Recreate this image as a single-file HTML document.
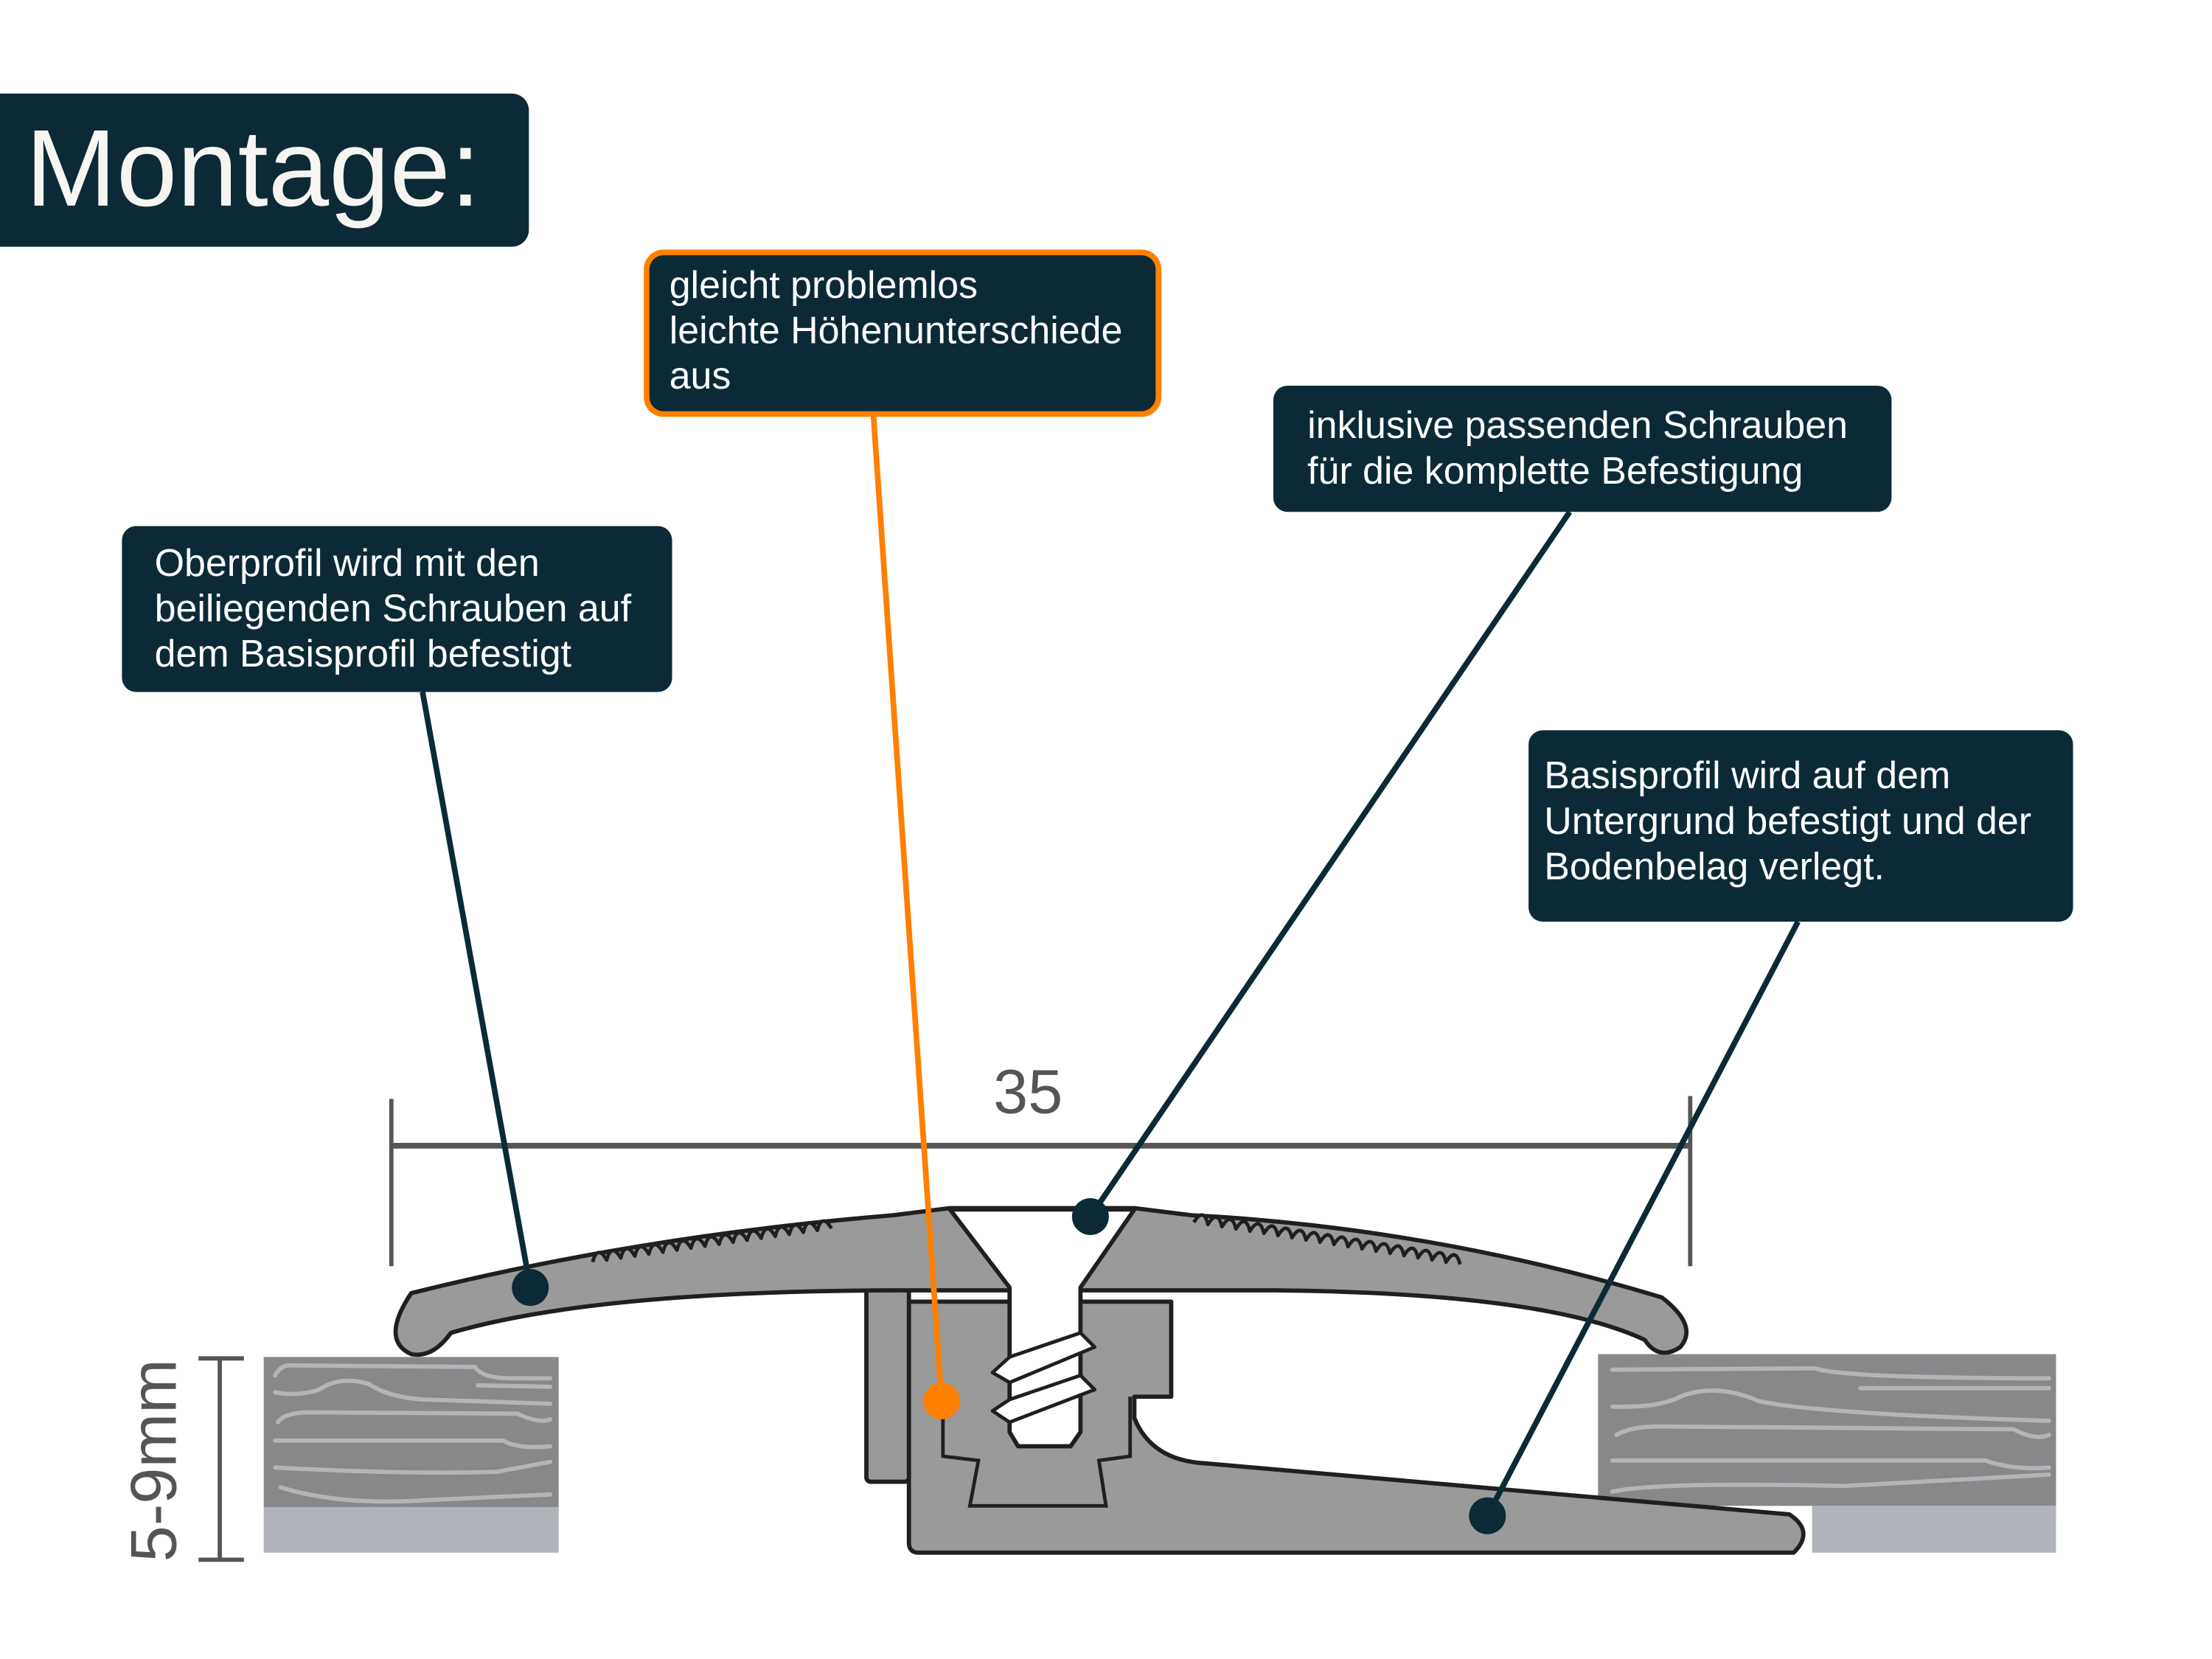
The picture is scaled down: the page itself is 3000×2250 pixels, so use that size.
<!DOCTYPE html>
<html><head><meta charset="utf-8"><style>
html,body{margin:0;padding:0;background:#fff;}
svg{display:block;}
text{font-family:"Liberation Sans","DejaVu Sans",sans-serif;}
</style></head><body>
<svg width="3000" height="2250" viewBox="0 0 1560 1170" xmlns="http://www.w3.org/2000/svg">
<rect width="1560" height="1170" fill="#fff"/>

<rect x="-20" y="66" width="393" height="108" rx="12" fill="#0b2a36"/>
<text x="18" y="145" font-size="77" fill="#f7f5f2">Montage:</text>

<rect x="186" y="957" width="208" height="106" fill="#88888b"/>
<rect x="186" y="1063" width="208" height="32" fill="#b0b3ba"/>
<g stroke="#b5b5b8" stroke-width="3" fill="none" stroke-linecap="round">
<path d="M194,970 Q198,962 206,963 L335,964 Q340,972 360,972 L388,972"/>
<path d="M194,982 Q210,985 225,980 Q240,970 260,976 Q275,986 300,987 L388,990"/>
<path d="M337,977 L388,978"/>
<path d="M196,1003 Q200,997 215,996 L365,997 Q380,1004 388,1001"/>
<path d="M194,1016 L355,1016 Q365,1022 388,1020"/>
<path d="M194,1035 Q290,1040 350,1038 L388,1031"/>
<path d="M198,1049 Q240,1062 300,1058 L388,1054"/>
</g>
<rect x="1127" y="955" width="323" height="107" fill="#88888b"/>
<rect x="1278" y="1062" width="172" height="33" fill="#b0b3ba"/>
<g stroke="#b5b5b8" stroke-width="3" fill="none" stroke-linecap="round">
<path d="M1137,966 L1280,965 Q1300,972 1445,972"/>
<path d="M1312,979 L1445,979"/>
<path d="M1137,992 Q1170,993 1185,985 Q1210,975 1240,988 Q1280,997 1445,1002"/>
<path d="M1140,1012 Q1150,1006 1170,1006 L1420,1008 Q1435,1016 1445,1012"/>
<path d="M1137,1030 L1400,1030 Q1420,1037 1445,1035"/>
<path d="M1137,1052 Q1170,1045 1300,1048 L1445,1040"/>
</g>

<g stroke="#555" fill="none">
<line x1="276" y1="775" x2="276" y2="893" stroke-width="3"/>
<line x1="1192" y1="773" x2="1192" y2="893" stroke-width="3"/>
<line x1="276" y1="808" x2="1192" y2="808" stroke-width="4"/>
</g>
<text x="725" y="785" font-size="44" fill="#555" text-anchor="middle">35</text>

<g stroke="#555" stroke-width="3">
<line x1="155" y1="958" x2="155" y2="1100"/>
<line x1="140" y1="958" x2="172" y2="958"/>
<line x1="140" y1="1100" x2="172" y2="1100"/>
</g>
<text transform="translate(124,1030) rotate(-90)" font-size="46" fill="#555" text-anchor="middle">5-9mm</text>

<path d="M641,918 L826,918 L826,985 L800,985 L800,1000 Q812,1030 850,1032 L1262,1068 Q1280,1080 1265,1095 L648,1095 Q641,1095 641,1088 Z" fill="#9a9a9a" stroke="#1f1f1f" stroke-width="3" stroke-linejoin="round"/>
<path d="M665,985 L665,1027 L690,1030 L684,1062 L780,1062 L775,1030 L797,1027 L797,985" fill="none" stroke="#1f1f1f" stroke-width="2.5"/>
<rect x="611" y="905" width="30" height="140" rx="3" fill="#9a9a9a" stroke="#1f1f1f" stroke-width="3"/>
<path d="M290,912 Q450,872 630,857 L670,852 L800,852 L840,857 Q1010,866 1172,915 Q1198,935 1185,950 Q1170,960 1160,945 Q1090,912 900,910 L640,910 Q420,910 318,940 Q305,958 290,955 Q268,945 290,912 Z" fill="#9a9a9a" stroke="#1f1f1f" stroke-width="3" stroke-linejoin="round"/>
<g fill="#9a9a9a" stroke="#1f1f1f" stroke-width="2.5" stroke-linejoin="round">
<path d="M418,890 q5,-12 10,0 q5,-12 10,0 q5,-12 10,0 q5,-12 10,0 q5,-12 10,0 q5,-12 10,0 q5,-12 10,0 q5,-12 10,0 q5,-12 10,0 q5,-12 10,0 q5,-12 10,0 q5,-12 10,0 q5,-12 10,0 q5,-12 10,0 q5,-12 10,0 q5,-12 10,0 q5,-12 10,0" transform="rotate(-8 418 890)"/>
<path d="M842,862 q5,-12 10,0 q5,-12 10,0 q5,-12 10,0 q5,-12 10,0 q5,-12 10,0 q5,-12 10,0 q5,-12 10,0 q5,-12 10,0 q5,-12 10,0 q5,-12 10,0 q5,-12 10,0 q5,-12 10,0 q5,-12 10,0 q5,-12 10,0 q5,-12 10,0 q5,-12 10,0 q5,-12 10,0 q5,-12 10,0 q5,-12 10,0" transform="rotate(9 842 862)"/>
</g>
<path d="M670,853 L800,853 L762,908 L762,1010 L755,1020 L718,1020 L712,1010 L712,908 Z" fill="#fff" stroke="#1f1f1f" stroke-width="3" stroke-linejoin="round"/>
<g fill="#fff" stroke="#1f1f1f" stroke-width="2.5" stroke-linejoin="round">
<path d="M712,957 L700,968 L712,975 L772,950 L762,940 Z"/>
<path d="M712,987 L700,995 L712,1003 L772,980 L762,970 Z"/>
</g>

<g stroke="#0b2a36" stroke-width="4">
<line x1="298" y1="488" x2="374" y2="908"/>
<line x1="1107" y1="361" x2="769" y2="858"/>
<line x1="1268" y1="650" x2="1049" y2="1069"/>
</g>
<line x1="616" y1="293" x2="664" y2="988" stroke="#ff8000" stroke-width="4"/>
<circle cx="374" cy="908" r="13" fill="#0b2a36"/>
<circle cx="769" cy="858" r="13" fill="#0b2a36"/>
<circle cx="1049" cy="1069" r="13" fill="#0b2a36"/>
<circle cx="664" cy="988" r="13" fill="#ff8000"/>

<rect x="456" y="178" width="361" height="114" rx="12" fill="#0b2a36" stroke="#ff8000" stroke-width="4"/>
<g font-size="27" fill="#fff">
<text x="472" y="210">gleicht problemlos</text>
<text x="472" y="242">leichte Höhenunterschiede</text>
<text x="472" y="274">aus</text>
</g>
<rect x="898" y="272" width="436" height="89" rx="10" fill="#0b2a36"/>
<g font-size="27" fill="#fff">
<text x="922" y="309">inklusive passenden Schrauben</text>
<text x="922" y="341">für die komplette Befestigung</text>
</g>
<rect x="86" y="371" width="388" height="117" rx="10" fill="#0b2a36"/>
<g font-size="27" fill="#fff">
<text x="109" y="406">Oberprofil wird mit den</text>
<text x="109" y="438">beiliegenden Schrauben auf</text>
<text x="109" y="470">dem Basisprofil befestigt</text>
</g>
<rect x="1078" y="515" width="384" height="135" rx="10" fill="#0b2a36"/>
<g font-size="27" fill="#fff">
<text x="1089" y="556">Basisprofil wird auf dem</text>
<text x="1089" y="588">Untergrund befestigt und der</text>
<text x="1089" y="620">Bodenbelag verlegt.</text>
</g>
</svg>
</body></html>
